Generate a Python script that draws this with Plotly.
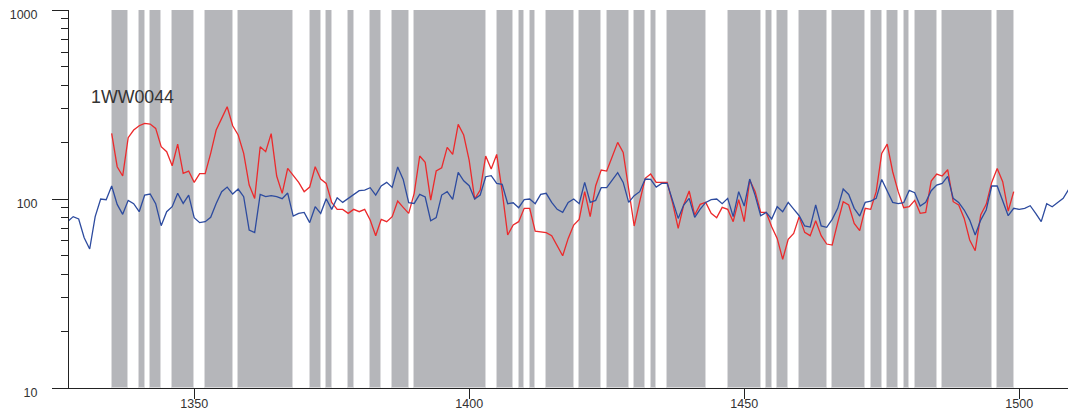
import plotly.graph_objects as go

# ---- data ----
red_start = 1335
red_values = [
    222.6, 148.3, 132.4, 211.1, 231.8, 244.4, 251.4, 249.4, 236.5, 189.2,
    178.1, 150.1, 195.4, 136.7, 140.7, 122.5, 136.2, 136.2, 174.5, 231.8,
    267.2, 308.0, 244.4, 218.2, 174.5, 118.6, 100.8, 189.2, 178.1, 222.0,
    132.4, 107.2, 145.3, 134.0, 122.5, 109.4, 115.7, 148.3, 127.6, 121.0,
    96.0, 88.2, 88.2, 84.0, 88.2, 85.7, 88.2, 77.4, 64.0, 78.1,
    75.9, 80.7, 97.6, 90.4, 84.0, 107.2, 168.9, 156.4, 98.8, 140.7,
    146.5, 187.7, 172.3, 248.3, 218.2, 160.0, 100.0, 111.6, 168.9, 144.1,
    172.3, 109.4, 64.5, 72.9, 75.9, 89.3, 89.3, 67.7, 67.2, 66.4,
    64.0, 57.1, 50.1, 61.9, 72.9, 78.1, 109.4, 80.7, 117.7, 142.4,
    140.7, 167.5, 199.5, 176.6, 109.4, 72.0, 96.8, 128.7, 135.6, 122.5,
    122.5, 122.5, 94.8, 70.0, 93.0, 110.3, 82.3, 93.7, 96.0, 84.0,
    79.7, 90.4, 88.2, 75.9, 99.2, 75.9, 126.0, 109.4, 85.0, 85.0,
    71.4, 61.9, 48.0, 61.2, 65.8, 80.7, 66.6, 64.0, 76.8, 64.0,
    57.8, 57.1, 75.0, 96.8, 93.0, 74.3, 68.0, 89.3, 88.2, 109.4,
    174.5, 195.4, 139.5, 109.4, 90.0, 91.1, 98.4, 84.0, 85.0, 124.5,
    135.6, 132.4, 143.0, 96.8, 93.0, 79.0, 60.7, 53.3, 82.3, 93.7,
    122.5, 145.3, 123.5, 86.4, 109.4,
]

blue_start = 1327
blue_values = [
    75.9, 80.7, 78.4, 62.4, 54.4, 80.7, 100.0, 99.2, 117.2, 93.7,
    83.0, 98.4, 94.5, 85.7, 105.0, 106.3, 94.5, 72.3, 85.7, 91.1,
    107.2, 94.8, 105.0, 79.7, 75.0, 75.9, 80.0, 94.8, 109.4, 115.7,
    106.3, 113.0, 102.9, 68.5, 66.4, 105.8, 102.9, 104.2, 102.9, 100.4,
    107.6, 81.3, 84.0, 85.0, 75.0, 91.1, 84.0, 100.4, 88.2, 101.6,
    96.0, 100.8, 105.0, 110.7, 111.6, 114.8, 105.0, 117.2, 122.5, 115.3,
    147.7, 127.0, 95.6, 94.8, 105.8, 102.5, 76.8, 79.7, 105.0, 109.4,
    99.6, 138.4, 125.0, 117.7, 100.0, 105.0, 131.3, 132.9, 121.0, 119.6,
    94.5, 95.6, 90.0, 99.2, 100.0, 94.5, 105.8, 107.2, 96.0, 88.2,
    85.0, 96.0, 100.0, 94.5, 122.5, 96.0, 98.4, 114.8, 114.8, 126.0,
    137.9, 122.5, 96.0, 104.2, 109.4, 127.6, 127.0, 115.7, 121.0, 121.0,
    97.6, 79.0, 93.0, 100.8, 80.0, 88.5, 96.0, 99.2, 100.0, 94.5,
    100.8, 80.7, 109.4, 91.8, 127.6, 104.2, 81.6, 85.0, 78.4, 91.1,
    85.7, 96.0, 88.5, 81.6, 72.0, 71.1, 93.0, 72.0, 70.8, 78.1,
    89.3, 113.0, 105.8, 89.3, 81.3, 96.0, 97.6, 100.8, 127.0, 109.4,
    96.0, 94.5, 95.6, 111.1, 108.0, 91.8, 96.0, 110.7, 118.6, 121.0,
    131.8, 100.8, 96.0, 87.5, 77.4, 64.5, 77.4, 87.5, 117.2, 117.2,
    96.8, 81.6, 89.3, 88.2, 89.3, 92.2, 84.0, 75.9, 94.5, 91.1,
    96.0, 100.8, 112.5, 111.1,
]

# shaded periods (start year, end year)
period_start = [1335, 1340, 1342, 1346, 1352, 1358, 1371, 1374, 1378, 1382, 1386,
                1390, 1405, 1409, 1411, 1414, 1420, 1425, 1430, 1433, 1436, 1447,
                1454, 1456, 1460, 1466, 1473, 1476, 1479, 1481, 1486, 1496]
period_end = [1338, 1341, 1344, 1350, 1357, 1368, 1373, 1375, 1379, 1384, 1389,
              1403, 1408, 1410, 1412, 1419, 1424, 1429, 1432, 1434, 1443, 1453,
              1455, 1458, 1465, 1472, 1475, 1478, 1480, 1485, 1495, 1499]

label_text = "1WW0044"
x_ticks = [1350, 1400, 1450, 1500]
y_ticks = [10, 100, 1000]
y_minor = [20, 30, 40, 50, 60, 70, 80, 90, 200, 300, 400, 500, 600, 700, 800, 900]

red_years = list(range(red_start, red_start + len(red_values)))
blue_years = list(range(blue_start, blue_start + len(blue_values)))
period_width = [e - s for s, e in zip(period_start, period_end)]

FONT = "Liberation Sans, Arial, sans-serif"

fig = go.Figure()
fig.add_trace(go.Bar(
    x=period_start, y=[990] * len(period_start), base=10,
    width=period_width, offset=0,
    marker=dict(color="#b5b6ba", line=dict(color="#dcdcde", width=1)),
    hoverinfo="skip", showlegend=False,
))
fig.add_trace(go.Scatter(
    x=red_years, y=red_values, mode="lines",
    line=dict(color="#ec2a2c", width=1.3), showlegend=False,
))
fig.add_trace(go.Scatter(
    x=blue_years, y=blue_values, mode="lines",
    line=dict(color="#2d4b9f", width=1.3), showlegend=False,
))

fig.add_annotation(
    x=1330.9, y=2.54, text=label_text, showarrow=False,
    xanchor="left", yanchor="middle",
    font=dict(family=FONT, size=17.8, color="#333333"),
)

# page body has an 8px default margin: the figure is sized/margined to compensate
fig.update_layout(
    width=1068, height=407,
    margin=dict(l=61, r=4, t=2, b=27, autoexpand=False),
    paper_bgcolor="white", plot_bgcolor="white",
    bargap=0, showlegend=False,
    font=dict(family=FONT, size=12.5, color="#333333"),
)
fig.update_xaxes(
    range=[1327.24, 1509.6], tickmode="array", tickvals=x_ticks,
    ticks="outside", ticklen=10, tickcolor="#222222", tickwidth=1,
    showline=True, linecolor="#222222", linewidth=1,
    showgrid=False, zeroline=False, ticklabelstandoff=-6, automargin=False,
    tickfont=dict(family=FONT, size=12.5, color="#333333"),
)
fig.update_yaxes(
    type="log", range=[1, 3.0005], tickmode="array", tickvals=y_ticks,
    ticktext=[str(v) for v in y_ticks],
    ticks="outside", ticklen=16, tickcolor="#222222", tickwidth=1,
    showline=True, linecolor="#222222", linewidth=1,
    showgrid=False, zeroline=False, ticklabelstandoff=12, ticklabelshift=5,
    automargin=False,
    minor=dict(ticks="outside", ticklen=7, tickcolor="#222222", tickwidth=1,
               tickmode="array", tickvals=y_minor, showgrid=False),
    tickfont=dict(family=FONT, size=12.5, color="#333333"),
)

fig.write_html("out.html")
